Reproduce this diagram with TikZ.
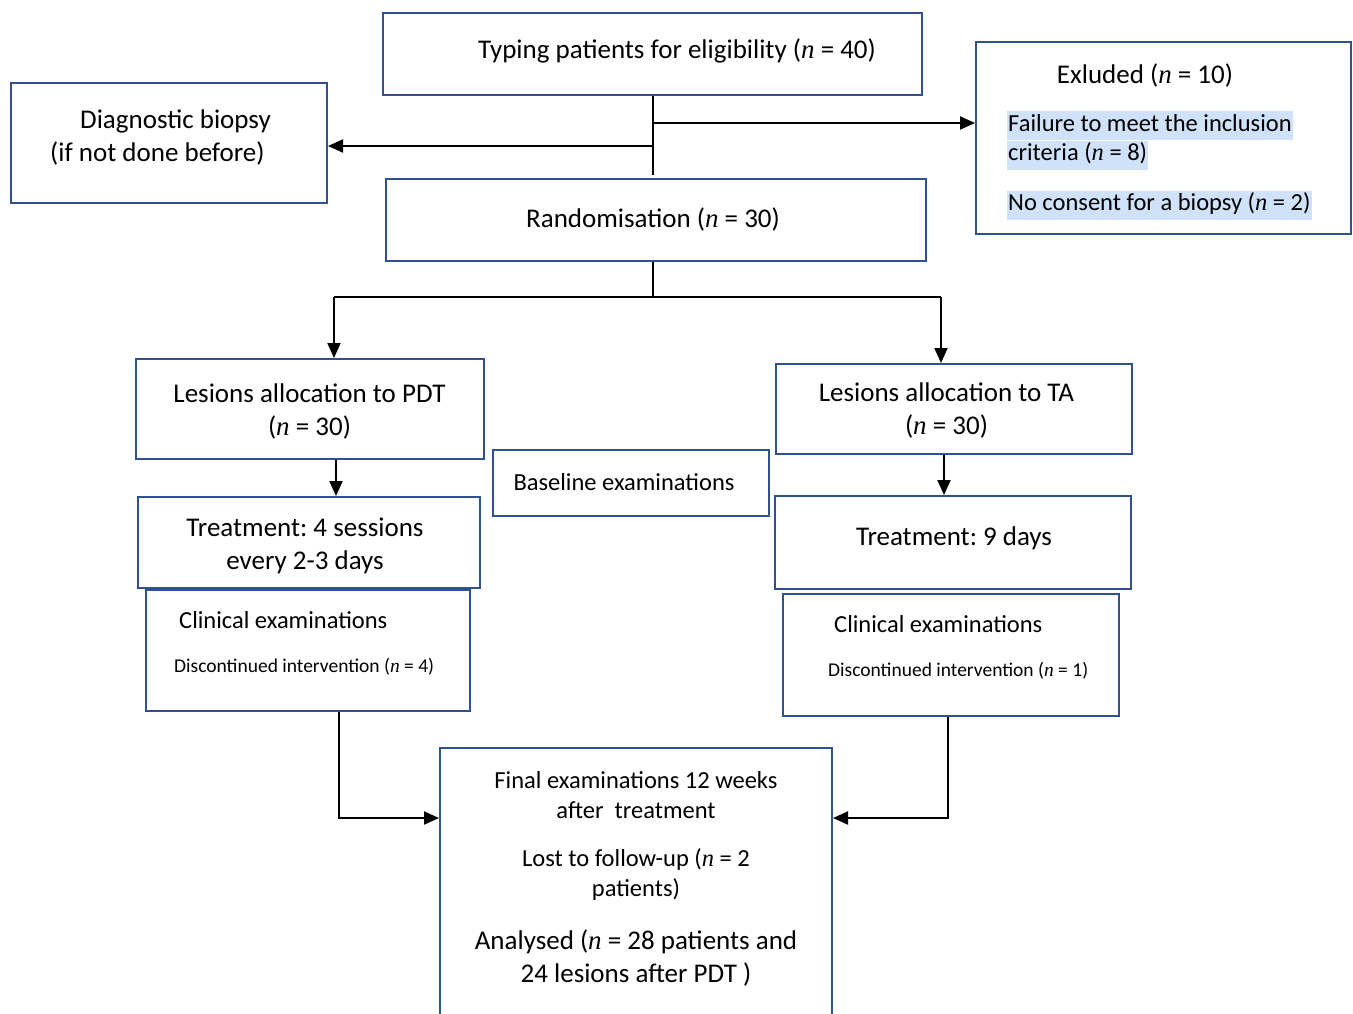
\documentclass[tikz,border=0pt]{standalone}
\usepackage{fontspec}
\setmainfont{Carlito}
\newfontfamily\nserif{Liberation Serif}
\usetikzlibrary{arrows.meta}
\definecolor{boxblue}{RGB}{47,82,143}
\definecolor{hlblue}{RGB}{207,226,250}
\newcommand{\nsym}{{\nserif\itshape n}}
\frenchspacing
\begin{document}
\begin{tikzpicture}
     [x=1pt,y=-1pt,
     %boxes, texts and connectors
     box/.style={draw=boxblue,line width=2pt,rectangle,inner sep=0pt},
     txt/.style={inner sep=0pt,align=center,font=\fontsize{27}{33}\selectfont},
     midtxt/.style={inner sep=0pt,align=center,font=\fontsize{24.5}{30}\selectfont},
     smalltxt/.style={inner sep=0pt,font=\fontsize{19.5}{22}\selectfont},
     hl/.style={fill=hlblue,inner xsep=1pt,inner ysep=0pt,text height=20pt,text depth=9pt,anchor=west,font=\fontsize{24.5}{30}\selectfont},
     conn/.style={draw=black,line width=2pt},
     arr/.style={conn,-{Triangle[length=15pt,width=13pt]}}]
\useasboundingbox (0,0) rectangle (1353,1013);

%boxes
  \node[box,minimum width=539pt,minimum height=82pt] (typ) at (652.5,54) {};
  \node[box,minimum width=316pt,minimum height=120pt] (diag) at (169,143) {};
  \node[box,minimum width=375pt,minimum height=192pt] (excl) at (1163.5,138) {};
  \node[box,minimum width=540pt,minimum height=82pt] (rand) at (656,220) {};
  \node[box,minimum width=348pt,minimum height=100pt] (pdt) at (310,409) {};
  \node[box,minimum width=356pt,minimum height=90pt] (ta) at (954,409) {};
  \node[box,minimum width=276pt,minimum height=66pt] (base) at (631,483) {};
  \node[box,minimum width=342pt,minimum height=91pt] (treatP) at (309,542.5) {};
  \node[box,minimum width=356pt,minimum height=93pt] (treatT) at (953,542.5) {};
  \node[box,minimum width=324pt,minimum height=121pt] (clinP) at (308,650.5) {};
  \node[box,minimum width=336pt,minimum height=122pt] (clinT) at (951,655) {};
  \node[box,minimum width=392pt,minimum height=282pt] (final) at (636,889) {};

%texts
  \node[txt] (typtxt) at (677,50.5) {Typing patients for eligibility (\nsym{} = 40)};
  \node[txt,align=left,anchor=west] (diagtxt) at (50,137) {\hspace*{30pt}Diagnostic biopsy\\(if not done before)};
  \node[txt] (excltxt) at (1145,75) {Exluded (\nsym{} = 10)};
  \node[hl] (fail1) at (1007,125.5) {Failure to meet the inclusion};
  \node[hl] (fail2) at (1007,155) {criteria (\nsym{} = 8)};
  \node[hl] (nocons) at (1007,205) {No consent for a biopsy (\nsym{} = 2)};
  \node[txt] (randtxt) at (653,219) {Randomisation (\nsym{} = 30)};
  \node[txt] (pdttxt) at (309.5,411) {Lesions allocation to PDT\\(\nsym{} = 30)};
  \node[txt] (tatxt) at (946.5,410) {Lesions allocation to TA\\(\nsym{} = 30)};
  \node[midtxt] (basetxt) at (624,482) {Baseline examinations};
  \node[txt] (treatPtxt) at (305,545.5) {Treatment: 4 sessions\\every 2-3 days};
  \node[txt] (treatTtxt) at (954,538) {Treatment: 9 days};
  \node[midtxt,anchor=west] (clinPtxt) at (179,620) {Clinical examinations};
  \node[smalltxt,anchor=west] (discP) at (174,667) {Discontinued intervention (\nsym{} = 4)};
  \node[midtxt,anchor=west] (clinTtxt) at (834,624) {Clinical examinations};
  \node[smalltxt,anchor=west] (discT) at (828,671) {Discontinued intervention (\nsym{} = 1)};
  \node[midtxt] (fintxt) at (636,795) {Final examinations 12 weeks\\after\ \ treatment};
  \node[midtxt] (losttxt) at (636,875) {Lost to follow-up (\nsym{} = 2\\patients)};
  \node[txt] (anatxt) at (636,958) {Analysed (\nsym{} = 28 patients and\\24 lesions after PDT )};

%junctions
  \coordinate (jt) at (653,175);
  \coordinate (jx) at (653,123);
  \coordinate (jd) at (653,146);
  \coordinate (jr) at (653,297);
  \coordinate (jl) at (334,297);
  \coordinate (jrr) at (941,297);
  \coordinate (ap) at (336,0);
  \coordinate (at) at (944,0);
  \coordinate (cp) at (339,818);
  \coordinate (ct) at (948,818);

%connectors
  \draw[conn] (typ.south -| jt) -- (jt);
  \draw[arr] (jx) -- (jx -| excl.west);
  \draw[arr] (jd) -- (jd -| diag.east);
  \draw[conn] (rand.south -| jr) -- (jr);
  \draw[conn] (jl) -- (jrr);
  \draw[arr] (jl) -- (jl |- pdt.north);
  \draw[arr] (jrr) -- (jrr |- ta.north);
  \draw[arr] (pdt.south -| ap) -- (treatP.north -| ap);
  \draw[arr] (ta.south -| at) -- (treatT.north -| at);
  \draw[arr] (clinP.south -| cp) |- (final.west |- cp);
  \draw[arr] (clinT.south -| ct) |- (final.east |- ct);
\end{tikzpicture}
\end{document}
